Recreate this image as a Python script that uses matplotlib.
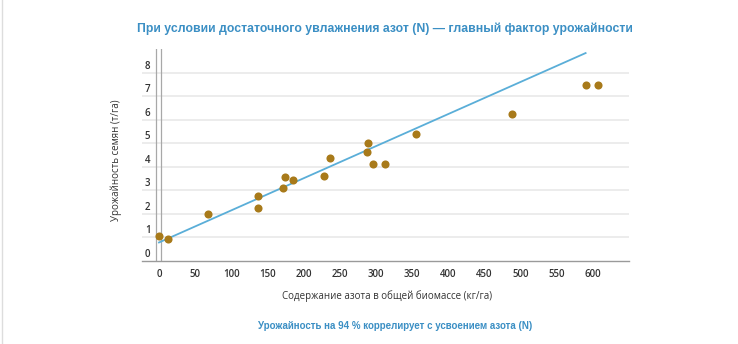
import matplotlib
matplotlib.use('Agg')
import matplotlib.pyplot as plt
import matplotlib.transforms as mtransforms
from matplotlib.lines import Line2D
import numpy as np

# nitrogen in total biomass (kg/ha) vs seed yield (t/ha)
nitrogen = [0, 12, 68, 137, 137, 171, 174, 185, 228, 236, 289, 288, 296, 313, 356, 488, 590, 607]
yield_t = [1.05, 0.92, 2.0, 2.75, 2.25, 3.09, 3.55, 3.43, 3.59, 4.38, 5.03, 4.62, 4.14, 4.1, 5.39, 6.24, 7.46, 7.46]

# trend line end points
trend_x = [0, 590]
trend_y = [0.78, 8.84]

x_ticks = [0, 50, 100, 150, 200, 250, 300, 350, 400, 450, 500, 550, 600]
y_ticks = [0, 1, 2, 3, 4, 5, 6, 7, 8]

title = 'При условии достаточного увлажнения азот (N) — главный фактор урожайности'
note = 'Урожайность на 94 % коррелирует с усвоением азота (N)'
x_label = 'Содержание азота в общей биомассе (кг/га)'
y_label = 'Урожайность семян (т/га)'

blue = '#3b8fc4'
point_col = '#a87a1a'
line_col = '#5aaed8'

plt.rcParams['font.family'] = ['Open Sans', 'DejaVu Sans']

fig = plt.figure(figsize=(7.38, 3.44), dpi=100)
ax = fig.add_axes([142 / 738, 1 - 260.8 / 344, 487 / 738, 211.5 / 344])

ax.set_xlim(-23.5, 650)
ax.set_ylim(0, 9)

# gridlines
for v in y_ticks[1:]:
    ax.axhline(v, color='#e9e9e9', lw=1.2, zorder=0)
ax.axvline(-4.6, color='#a8a8a8', lw=0.9, zorder=1)
ax.axvline(2.8, color='#a8a8a8', lw=0.9, zorder=1)

ax.plot(trend_x, trend_y, color=line_col, lw=1.3, zorder=2)
ax.scatter(nitrogen, yield_t, s=34, color=point_col, zorder=3, linewidths=0)

for s in ['top', 'right', 'left']:
    ax.spines[s].set_visible(False)
ax.spines['bottom'].set_color('#9a9a9a')
ax.spines['bottom'].set_linewidth(1.0)

ax.set_xticks(x_ticks)
ax.set_yticks(y_ticks)
ax.tick_params(axis='both', length=0, labelsize=7, colors='#333333')
ax.tick_params(axis='x', pad=6)
ax.tick_params(axis='y', pad=-4)
for lab in ax.get_yticklabels():
    lab.set_horizontalalignment('center')
    lab.set_transform(lab.get_transform() + mtransforms.ScaledTranslation(0, 8 / 100, fig.dpi_scale_trans))
for lab in ax.get_xticklabels() + ax.get_yticklabels():
    lab.set_fontweight('semibold')

fig.text(387 / 738, 1 - 296 / 344, x_label, ha='center', va='center', fontsize=7, color='#333333')
fig.text(116 / 738, 1 - 160 / 344, y_label, ha='center', va='center', rotation=90, fontsize=7, color='#333333')

fig.text(385 / 738, 1 - 29 / 344, title, ha='center', va='center', fontsize=8.8,
         fontweight='bold', color=blue, family=['Liberation Sans Narrow', 'Liberation Sans', 'DejaVu Sans'])
fig.text(395 / 738, 1 - 326 / 344, note, ha='center', va='center', fontsize=7,
         fontweight='bold', color=blue, family=['Liberation Sans Narrow', 'Liberation Sans', 'DejaVu Sans'])

fig.add_artist(Line2D([1.5 / 738, 1.5 / 738], [0, 1], color='#dddddd', lw=1, transform=fig.transFigure))

fig.savefig('out.png', dpi=100)
